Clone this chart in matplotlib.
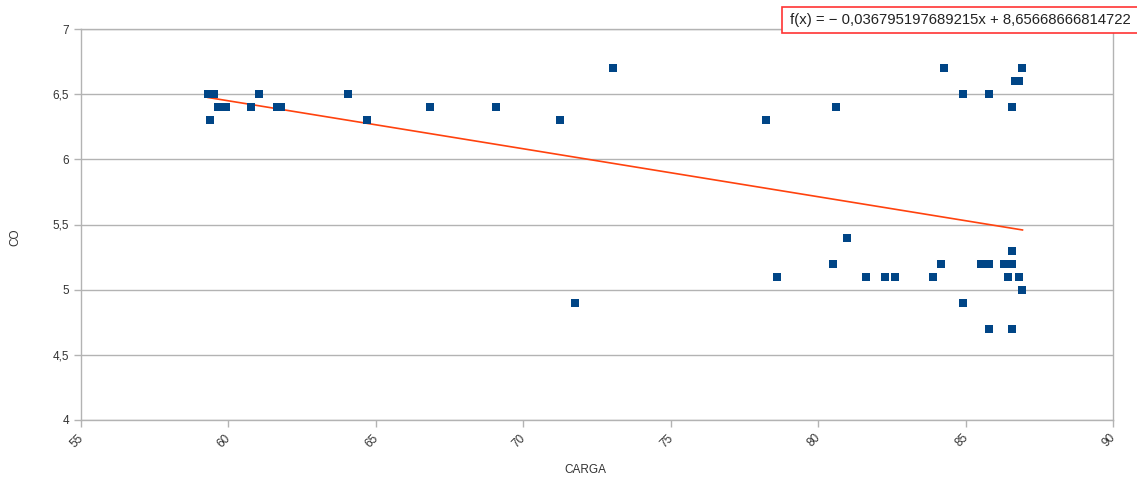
import matplotlib
matplotlib.use("Agg")
import matplotlib.pyplot as plt
from matplotlib.patches import Rectangle
from matplotlib.ticker import FuncFormatter, MultipleLocator
from matplotlib.transforms import ScaledTranslation

plt.rcParams['font.family'] = ['Liberation Sans', 'DejaVu Sans']

# Engine load vs. CO measurements
carga = [59.31, 59.51, 59.39, 59.66, 59.91, 60.78, 61.03, 61.64, 61.78, 64.06,
         64.71, 66.85, 69.09, 71.26, 71.77, 73.03, 78.22, 78.59, 80.49, 80.62,
         80.99, 81.62, 82.26, 82.62, 83.90, 84.15, 84.27, 84.90, 84.90, 85.54,
         85.79, 85.79, 85.79, 86.29, 86.43, 86.56, 86.56, 86.56, 86.56, 86.67,
         86.81, 86.82, 86.93, 86.93]
co = [6.5, 6.5, 6.3, 6.4, 6.4, 6.4, 6.5, 6.4, 6.4, 6.5,
      6.3, 6.4, 6.4, 6.3, 4.9, 6.7, 6.3, 5.1, 5.2, 6.4,
      5.4, 5.1, 5.1, 5.1, 5.1, 5.2, 6.7, 6.5, 4.9, 5.2,
      5.2, 6.5, 4.7, 5.2, 5.1, 5.2, 6.4, 5.3, 4.7, 6.6,
      6.6, 5.1, 6.7, 5.0]

# Linear trend line coefficients
slope = -0.036795197689215
intercept = 8.65668666814722
equation = "f(x) = − 0,036795197689215x + 8,65668666814722"

x_ticks = [55, 60, 65, 70, 75, 80, 85, 90]

W, H = 1137, 484
fig = plt.figure(figsize=(W / 100, H / 100), dpi=100)
ax = fig.add_axes([81 / W, 1 - 420 / H, (1113 - 81) / W, (420 - 29) / H])

grid_c = '#b3b3b3'
ax.set_xlim(55, 90)
ax.set_ylim(4, 7)
ax.yaxis.set_major_locator(MultipleLocator(0.5))
ax.set_xticks(x_ticks)
ax.yaxis.grid(True, color=grid_c, linewidth=1.0)
ax.set_axisbelow(True)
for s in ax.spines.values():
    s.set_color(grid_c)
    s.set_linewidth(1.0)
ax.tick_params(axis='both', colors=grid_c, length=5, width=1.0,
               labelcolor='#333333', labelsize=8.5)
ax.yaxis.set_major_formatter(FuncFormatter(lambda v, p: f"{v:g}".replace('.', ',')))
shift = ScaledTranslation(-4 / 100, 0, fig.dpi_scale_trans)
for lbl in ax.get_xticklabels():
    lbl.set_rotation(45)
    lbl.set_ha('center')
    lbl.set_transform(lbl.get_transform() + shift)

ax.scatter(carga, co, marker='s', s=30, color='#004586', linewidths=0, zorder=3)

x0, x1 = min(carga), max(carga)
ax.plot([x0, x1], [slope * x0 + intercept, slope * x1 + intercept],
        color='#ff420e', linewidth=1.2, zorder=2)

ax.set_xlabel('CARGA', fontsize=8.5, color='#333333')
ax.xaxis.set_label_coords((585 - 81) / (1113 - 81), (420 - 464) / 391)
ax.set_ylabel('CO', fontsize=8.5, color='#333333')
ax.yaxis.set_label_coords((21 - 81) / (1113 - 81), (420 - 237) / 391)

# Equation box
fig.patches.append(Rectangle((782 / W, 1 - 33 / H), 370 / W, 26 / H,
                             transform=fig.transFigure, facecolor='white',
                             edgecolor='#ff3333', linewidth=1.2))
fig.text(790 / W, 1 - 20 / H, equation, fontsize=10.7, color='#222222',
         va='center', ha='left')

fig.savefig('out.png', dpi=100, facecolor='white')
